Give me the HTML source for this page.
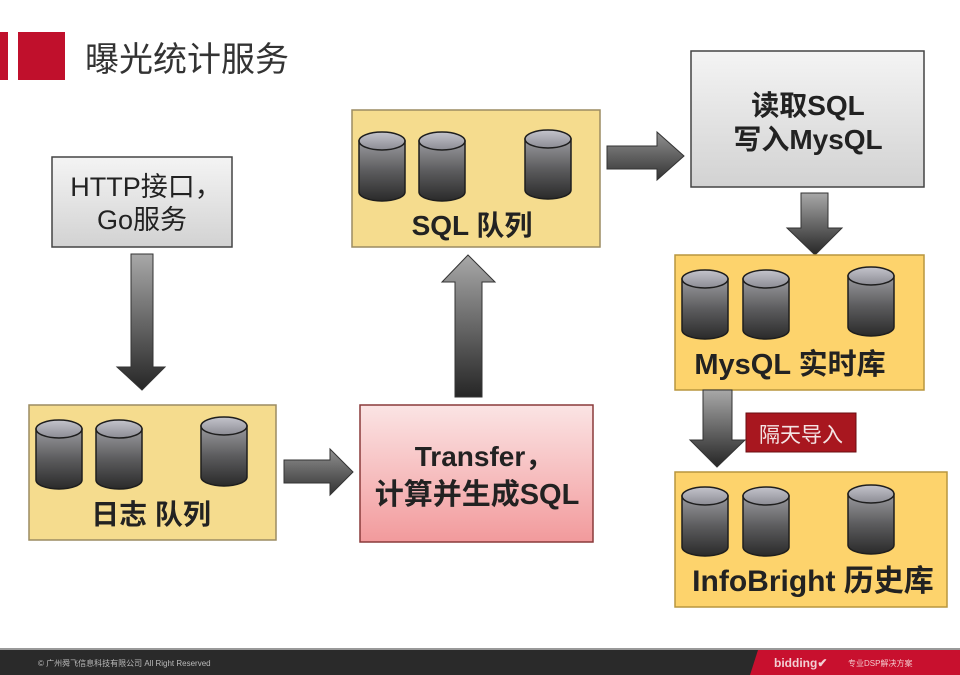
<!DOCTYPE html>
<html><head><meta charset="utf-8"><style>
html,body{margin:0;padding:0;background:#fff;}
body{width:960px;height:675px;overflow:hidden;}
svg{display:block;}
.t{font-family:"Liberation Sans","Noto Sans CJK SC",sans-serif;}
</style></head><body>
<svg width="960" height="675" viewBox="0 0 960 675" xmlns="http://www.w3.org/2000/svg">
<defs>
<linearGradient id="cylBody" x1="0" y1="0" x2="0" y2="1">
<stop offset="0" stop-color="#9a9a9e"/><stop offset="0.5" stop-color="#5c5c5e"/><stop offset="1" stop-color="#2a2a2a"/>
</linearGradient>
<linearGradient id="cylTop" x1="0" y1="0" x2="0" y2="1">
<stop offset="0" stop-color="#c4c4cc"/><stop offset="1" stop-color="#8c8c94"/>
</linearGradient>
<linearGradient id="arrV" x1="0" y1="0" x2="0" y2="1">
<stop offset="0" stop-color="#a8a8a8"/><stop offset="1" stop-color="#262626"/>
</linearGradient>
<linearGradient id="arrH" x1="0" y1="0" x2="0" y2="1">
<stop offset="0" stop-color="#909090"/><stop offset="1" stop-color="#333"/>
</linearGradient>
<linearGradient id="grayBox" x1="0" y1="0" x2="0" y2="1">
<stop offset="0" stop-color="#f4f4f4"/><stop offset="1" stop-color="#d2d2d2"/>
</linearGradient>
<linearGradient id="pinkBox" x1="0" y1="0" x2="0" y2="1">
<stop offset="0" stop-color="#fbe4e4"/><stop offset="1" stop-color="#f29a9c"/>
</linearGradient>
<g id="cyl">
<path d="M0,9 L0,60 A23,9 0 0 0 46,60 L46,9 Z" fill="url(#cylBody)" stroke="#1e1e1e" stroke-width="1.5"/>
<ellipse cx="23" cy="9" rx="23" ry="9" fill="url(#cylTop)" stroke="#1e1e1e" stroke-width="1.5"/>
</g>
</defs>

<!-- header -->
<rect x="0" y="32" width="8" height="48" fill="#c0102c"/>
<rect x="18" y="32" width="47" height="48" fill="#c0102c"/>
<text class="t" x="85" y="71" font-size="34" fill="#333">曝光统计服务</text>

<!-- HTTP box -->
<rect x="52" y="157" width="180" height="90" fill="url(#grayBox)" stroke="#444" stroke-width="1.5"/>
<text class="t" x="146" y="196" font-size="27" fill="#222" text-anchor="middle">HTTP接口，</text>
<text class="t" x="142" y="229" font-size="27" fill="#222" text-anchor="middle">Go服务</text>

<!-- down arrow 1 -->
<path d="M131,254 L153,254 L153,367 L165,367 L142,390 L117,367 L131,367 Z" fill="url(#arrV)" stroke="#333" stroke-width="1"/>

<!-- log queue -->
<rect x="29" y="405" width="247" height="135" fill="#f5dc8e" stroke="#9c8c62" stroke-width="1.5"/>
<use href="#cyl" x="36" y="420"/>
<use href="#cyl" x="96" y="420"/>
<use href="#cyl" x="201" y="417"/>
<text class="t" x="151" y="524" font-size="28" font-weight="bold" fill="#222" text-anchor="middle">日志 队列</text>

<!-- right arrow log->transfer -->
<path d="M284,460 L330,460 L330,449 L353,472 L330,495 L330,483 L284,483 Z" fill="url(#arrH)" stroke="#333" stroke-width="1"/>

<!-- Transfer box -->
<rect x="360" y="405" width="233" height="137" fill="url(#pinkBox)" stroke="#8a3a3a" stroke-width="1.5"/>
<text class="t" x="484" y="466" font-size="28" font-weight="bold" fill="#222" text-anchor="middle">Transfer，</text>
<text class="t" x="477" y="504" font-size="29" font-weight="bold" fill="#222" text-anchor="middle">计算并生成SQL</text>

<!-- up arrow -->
<path d="M455,397 L482,397 L482,282 L495,282 L468,255 L442,282 L455,282 Z" fill="url(#arrV)" stroke="#333" stroke-width="1"/>

<!-- SQL queue -->
<rect x="352" y="110" width="248" height="137" fill="#f5dc8e" stroke="#9c8c62" stroke-width="1.5"/>
<use href="#cyl" x="359" y="132"/>
<use href="#cyl" x="419" y="132"/>
<use href="#cyl" x="525" y="130"/>
<text class="t" x="472" y="235" font-size="28" font-weight="bold" fill="#222" text-anchor="middle">SQL 队列</text>

<!-- right arrow SQL->read -->
<path d="M607,146 L657,146 L657,132 L684,156 L657,180 L657,169 L607,169 Z" fill="url(#arrH)" stroke="#333" stroke-width="1"/>

<!-- Read box -->
<rect x="691" y="51" width="233" height="136" fill="url(#grayBox)" stroke="#444" stroke-width="1.5"/>
<text class="t" x="808" y="115" font-size="28" font-weight="bold" fill="#222" text-anchor="middle">读取SQL</text>
<text class="t" x="808" y="149" font-size="28" font-weight="bold" fill="#222" text-anchor="middle">写入MysQL</text>

<!-- down arrow 2 -->
<path d="M801,193 L828,193 L828,228 L842,228 L815,255 L787,228 L801,228 Z" fill="url(#arrV)" stroke="#333" stroke-width="1"/>

<!-- MySQL box -->
<rect x="675" y="255" width="249" height="135" fill="#fdd36c" stroke="#b8963e" stroke-width="1.5"/>
<use href="#cyl" x="682" y="270"/>
<use href="#cyl" x="743" y="270"/>
<use href="#cyl" x="848" y="267"/>
<text class="t" x="790" y="374" font-size="29" font-weight="bold" fill="#222" text-anchor="middle">MysQL 实时库</text>

<!-- down arrow 3 -->
<path d="M703,390 L732,390 L732,440 L745,440 L717,467 L690,440 L703,440 Z" fill="url(#arrV)" stroke="#333" stroke-width="1"/>

<!-- label -->
<rect x="746" y="413" width="110" height="39" fill="#a8171f" stroke="#6a0e12" stroke-width="1"/>
<text class="t" x="801" y="442" font-size="21" fill="#f4e4e4" text-anchor="middle">隔天导入</text>

<!-- InfoBright box -->
<rect x="675" y="472" width="272" height="135" fill="#fdd36c" stroke="#b8963e" stroke-width="1.5"/>
<use href="#cyl" x="682" y="487"/>
<use href="#cyl" x="743" y="487"/>
<use href="#cyl" x="848" y="485"/>
<text class="t" x="813" y="591" font-size="30" font-weight="bold" fill="#222" text-anchor="middle">InfoBright 历史库</text>

<!-- footer -->
<rect x="0" y="648" width="960" height="2" fill="#999"/>
<rect x="0" y="650" width="960" height="25" fill="#2a2a2a"/>
<path d="M758,650 L960,650 L960,675 L750,675 Z" fill="#c8102e"/>
<text class="t" x="38" y="666" font-size="8" fill="#bbb">© 广州舜飞信息科技有限公司 All Right Reserved</text>
<text class="t" x="774" y="667" font-size="12" font-weight="bold" fill="#f2d0d4">bidding✔</text>
<text class="t" x="848" y="666" font-size="8" fill="#f2c8cc">专业DSP解决方案</text>
</svg>
</body></html>
